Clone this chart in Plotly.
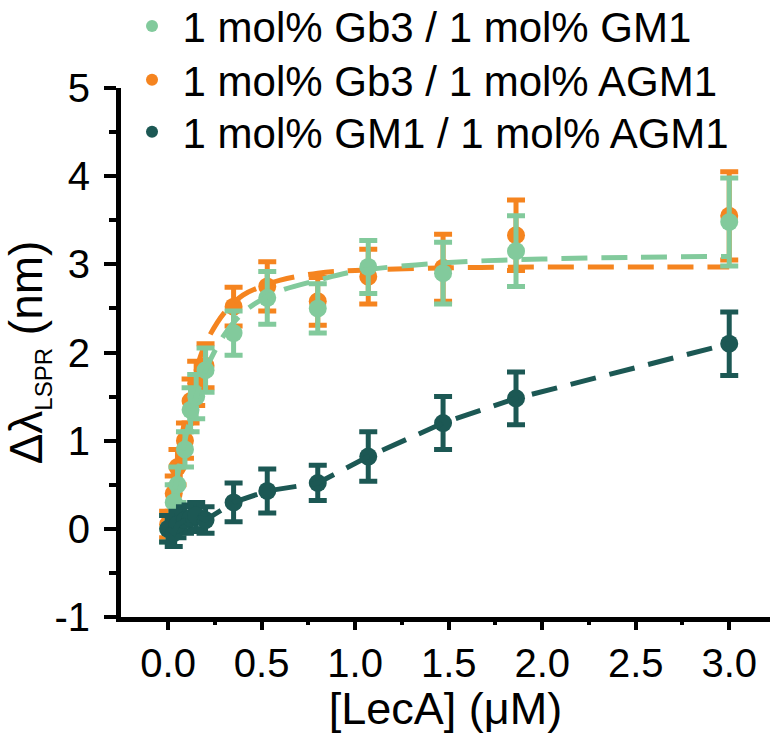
import plotly.graph_objects as go

# ---- data ----
conc = [0.0, 0.03, 0.05, 0.09, 0.12, 0.15, 0.2, 0.35, 0.53, 0.8, 1.07, 1.47, 1.86, 3.0]

gb3_gm1 = [0.0, 0.3, 0.5, 0.9, 1.35, 1.5, 1.8, 2.22, 2.62, 2.5, 2.97, 2.9, 3.15, 3.48]
gb3_gm1_err = [0.15, 0.2, 0.2, 0.2, 0.25, 0.25, 0.25, 0.25, 0.3, 0.28, 0.3, 0.35, 0.4, 0.5]

gb3_agm1 = [0.05, 0.4, 0.7, 1.0, 1.45, 1.65, 1.85, 2.52, 2.75, 2.58, 2.86, 2.96, 3.33, 3.55]
gb3_agm1_err = [0.15, 0.2, 0.2, 0.2, 0.25, 0.25, 0.25, 0.22, 0.28, 0.27, 0.31, 0.38, 0.4, 0.5]

gm1_agm1 = [0.0, -0.05, 0.05, 0.1, 0.12, 0.15, 0.1, 0.3, 0.43, 0.52, 0.82, 1.2, 1.48, 2.1]
gm1_agm1_err = [0.15, 0.15, 0.15, 0.15, 0.15, 0.15, 0.15, 0.22, 0.25, 0.2, 0.28, 0.3, 0.3, 0.36]

# fitted curves
fit_x = [0.0, 0.05, 0.1, 0.15, 0.2, 0.3, 0.4, 0.5, 0.6, 0.8, 1.0, 1.5, 2.0, 2.5, 3.0]
fit_gb3_gm1 = [0.0, 0.6, 1.1, 1.5, 1.8, 2.2, 2.45, 2.6, 2.7, 2.82, 2.92, 3.02, 3.06, 3.08, 3.09]
fit_gb3_agm1 = [0.0, 0.75, 1.35, 1.8, 2.1, 2.45, 2.65, 2.75, 2.82, 2.9, 2.93, 2.96, 2.97, 2.97, 2.97]

names = ["1 mol% Gb3 / 1 mol% GM1", "1 mol% Gb3 / 1 mol% AGM1", "1 mol% GM1 / 1 mol% AGM1"]
colors = ["#82CA9C", "#F5841F", "#1C5854"]

x_ticks = [0.0, 0.5, 1.0, 1.5, 2.0, 2.5, 3.0]
x_ticklabels = ["0.0", "0.5", "1.0", "1.5", "2.0", "2.5", "3.0"]
y_ticks = [-1, 0, 1, 2, 3, 4, 5]
y_ticklabels = ["-1", "0", "1", "2", "3", "4", "5"]

FONT = "Liberation Sans, Arial, sans-serif"
DASH = "26px,14px"
X_RANGE = [-0.252, 3.218]

fig = go.Figure()

def err(vals, c):
    return dict(type="data", array=vals, visible=True, color=c, thickness=5, width=9)

# orange
fig.add_trace(go.Scatter(x=conc, y=gb3_agm1, mode="markers", name=names[1], legend="legend2",
                         marker=dict(color=colors[1], size=18),
                         error_y=err(gb3_agm1_err, colors[1])))
fig.add_trace(go.Scatter(x=fit_x, y=fit_gb3_agm1, mode="lines", showlegend=False,
                         line=dict(color=colors[1], width=5, dash=DASH, shape="spline")))
# green
fig.add_trace(go.Scatter(x=conc, y=gb3_gm1, mode="markers", name=names[0], legend="legend",
                         marker=dict(color=colors[0], size=18),
                         error_y=err(gb3_gm1_err, colors[0])))
fig.add_trace(go.Scatter(x=fit_x, y=fit_gb3_gm1, mode="lines", showlegend=False,
                         line=dict(color=colors[0], width=5, dash=DASH, shape="spline")))
# dark (line drawn on the overlaying tick axis, same range)
fig.add_trace(go.Scatter(x=conc, y=gm1_agm1, mode="lines", showlegend=False, xaxis="x2",
                         line=dict(color=colors[2], width=5, dash=DASH)))
fig.add_trace(go.Scatter(x=conc, y=gm1_agm1, mode="markers", name=names[2], legend="legend3",
                         marker=dict(color=colors[2], size=18),
                         error_y=err(gm1_agm1_err, colors[2])))

def leg(yp):
    return dict(x=0.0008, y=yp, xanchor="left", yanchor="middle",
                bgcolor="rgba(0,0,0,0)", font=dict(size=42, family=FONT),
                itemsizing="constant", itemwidth=51)

fig.update_layout(
    width=770, height=734,
    margin=dict(l=121, r=0, t=88, b=117, autoexpand=False),
    paper_bgcolor="white", plot_bgcolor="white",
    font=dict(family=FONT, size=40, color="black"),
    legend=leg(1.117), legend2=leg(1.015), legend3=leg(0.917),
    showlegend=True,
    xaxis=dict(
        range=X_RANGE, tickvals=x_ticks, ticktext=x_ticklabels,
        showline=True, linewidth=5, linecolor="black", mirror=False,
        ticks="", showgrid=False, zeroline=False, ticklabelstandoff=7,
        tickfont=dict(size=40),
        title=dict(text="[LecA] (μM)", font=dict(size=45), standoff=0),
    ),
    xaxis2=dict(
        range=X_RANGE, overlaying="x", anchor="y", side="bottom",
        tickvals=x_ticks, showticklabels=False, showline=False,
        ticks="outside", ticklen=12, tickwidth=4, tickcolor="black",
        minor=dict(ticks="outside", ticklen=7, tickwidth=4, tickcolor="black",
                   tickvals=[0.25, 0.75, 1.25, 1.75, 2.25, 2.75]),
        showgrid=False, zeroline=False,
    ),
    yaxis=dict(
        range=[-1, 5], tickvals=y_ticks, ticktext=y_ticklabels,
        showline=True, linewidth=5, linecolor="black", mirror=False,
        ticks="outside", ticklen=12, tickwidth=4, tickcolor="black",
        minor=dict(ticks="outside", ticklen=7, tickwidth=4, tickcolor="black", dtick=0.5, tick0=0.5),
        showgrid=False, zeroline=False, ticklabelstandoff=6,
        tickfont=dict(size=40),
        title=dict(text="Δλ<sub><span style='font-size:24px'>LSPR</span></sub> (nm)",
                   font=dict(size=46), standoff=4),
    ),
)

fig.write_html("out.html")
